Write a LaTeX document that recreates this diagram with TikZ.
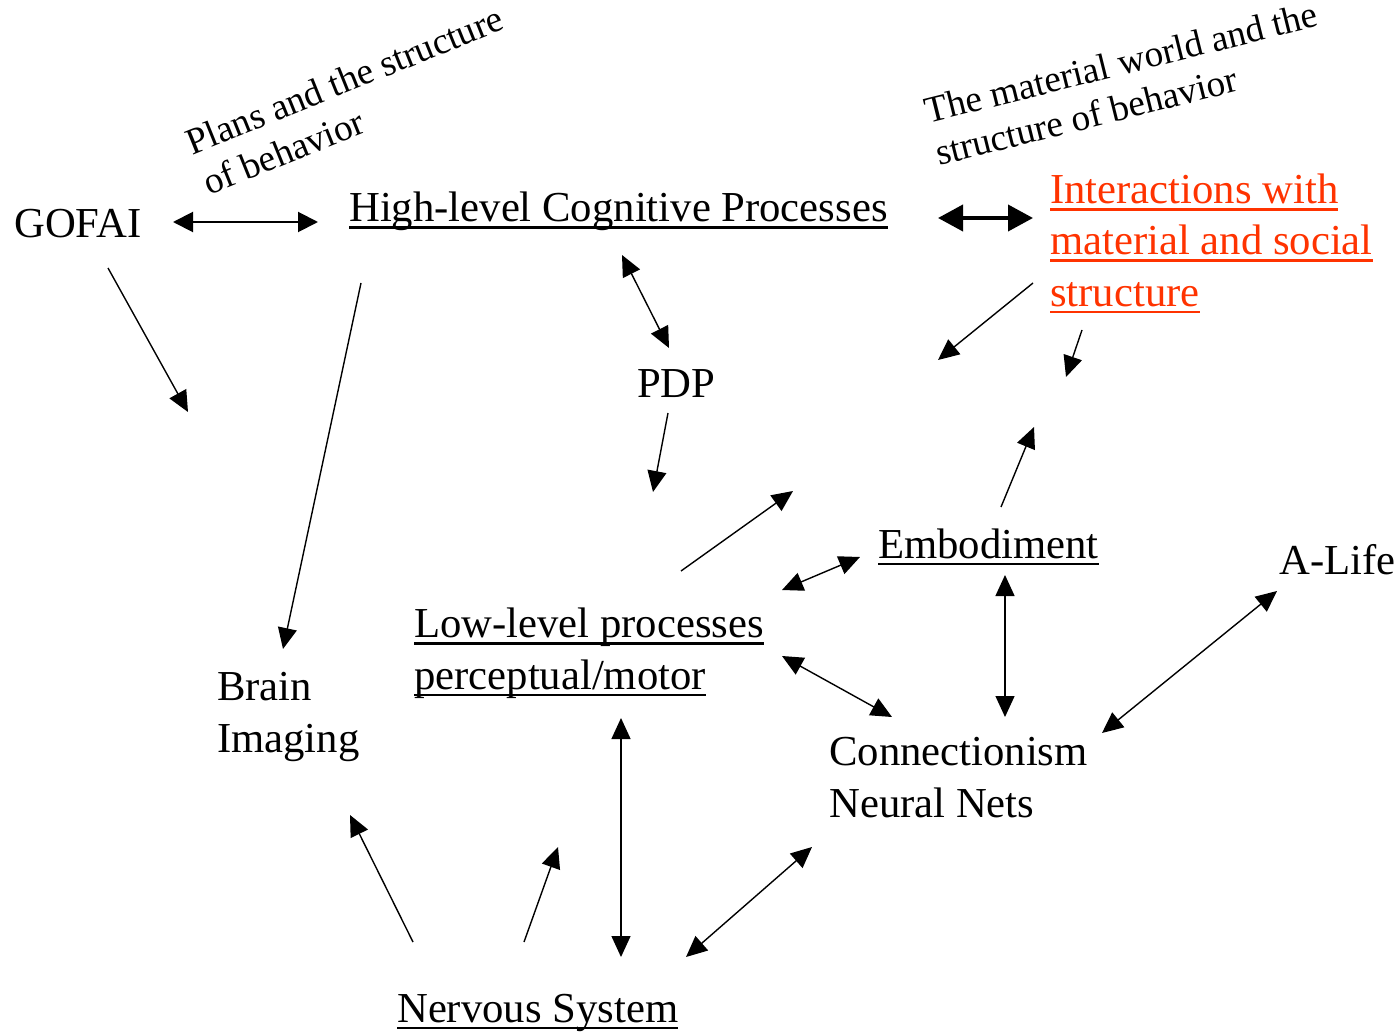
\documentclass[tikz,border=0pt]{standalone}
\usepackage{fontspec}
\setmainfont{Liberation Serif}
\usetikzlibrary{arrows.meta}
\definecolor{redtxt}{RGB}{255,51,0}
\newcommand\myul[1]{\setbox0\hbox{#1}\rlap{\rule[-7pt]{\wd0}{2.5pt}}\box0}
\begin{document}
\begin{tikzpicture}[x=1pt,y=-1pt,
  lbl/.style={inner sep=0pt, anchor=base west, font=\fontsize{42.7}{51.2}\selectfont, align=left},
  rlbl/.style={inner sep=0pt, anchor=base west, font=\fontsize{37.2}{44}\selectfont, align=left},
  con/.style={line width=1.4pt, -{Triangle[length=21pt,width=19pt]}},
  bicon/.style={line width=1.4pt, {Triangle[length=21pt,width=19pt]}-{Triangle[length=21pt,width=19pt]}},
  bimid/.style={line width=2pt, {Triangle[length=20pt,width=20pt]}-{Triangle[length=20pt,width=20pt]}},
  bibig/.style={line width=4pt, {Triangle[length=25pt,width=26pt]}-{Triangle[length=25pt,width=26pt]}}]
\useasboundingbox (0,0) rectangle (1399,1032);

% texts (multi-line nodes are placed by the baseline of their last line)
\node[lbl] (gofai) at (14,238) {GOFAI};
\node[lbl] (hlcp) at (349,222) {\myul{High-level Cognitive Processes}};
\node[lbl,text=redtxt] (inter) at (1050,306) {\myul{Interactions with}\\\myul{material and social}\\\myul{structure}};
\node[lbl] (pdp) at (637,397) {PDP};
\node[lbl] (emb) at (878,558) {\myul{Embodiment}};
\node[lbl] (alife) at (1279,574) {A-Life};
\node[lbl] (low) at (414,689) {\myul{Low-level processes}\\\myul{perceptual/motor}};
\node[lbl] (brain) at (217,752) {Brain\\Imaging};
\node[lbl] (conn) at (829,817) {Connectionism\\Neural Nets};
\node[lbl] (nerv) at (397,1022) {\myul{Nervous System}};
\node[rlbl, rotate=22] (plans) at (209,196) {Plans and the structure\\of behavior};
\node[rlbl, rotate=14] (mat) at (939,166) {The material world and the\\structure of behavior};

% connector end points
\coordinate (gofaiE) at (173,222);  \coordinate (hlcpW) at (318,222);
\coordinate (gofaiS) at (108,268);  \coordinate (freeA) at (188,412);
\coordinate (hlcpS) at (361,283);   \coordinate (brainN) at (283,649);
\coordinate (hlcpB) at (622,255);   \coordinate (pdpN) at (669,348);
\coordinate (pdpS) at (668,413);    \coordinate (freeB) at (653,492);
\coordinate (lowNE) at (681,571);   \coordinate (freeC) at (793,491);
\coordinate (lowE) at (782,590);    \coordinate (embW) at (860,557);
\coordinate (embN) at (1001,507);   \coordinate (freeD) at (1034,427);
\coordinate (interSW) at (1033,283);\coordinate (freeE) at (938,360);
\coordinate (interS) at (1082,330); \coordinate (freeF) at (1066,377);
\coordinate (hlcpE) at (938,218);   \coordinate (interW) at (1033,218);
\coordinate (embS) at (1005,575);   \coordinate (connN) at (1005,717);
\coordinate (lowE2) at (782,656);   \coordinate (connNW) at (892,717);
\coordinate (alifeS) at (1277,591); \coordinate (connE) at (1102,733);
\coordinate (lowS) at (621,718);    \coordinate (nervN) at (621,957);
\coordinate (nervNE) at (686,957);  \coordinate (connSW) at (812,847);
\coordinate (nervNW) at (413,942);  \coordinate (brainS) at (350,815);
\coordinate (nervN2) at (524,942);  \coordinate (freeG) at (558,847);

% connectors
\draw[bimid] (gofaiE) -- (hlcpW);
\draw[con] (gofaiS) -- (freeA);
\draw[con] (hlcpS) -- (brainN);
\draw[bicon] (hlcpB) -- (pdpN);
\draw[con] (pdpS) -- (freeB);
\draw[con] (lowNE) -- (freeC);
\draw[bicon] (lowE) -- (embW);
\draw[con] (embN) -- (freeD);
\draw[con] (interSW) -- (freeE);
\draw[con] (interS) -- (freeF);
\draw[bibig] (hlcpE) -- (interW);
\draw[bicon] (embS) -- (connN);
\draw[bicon] (lowE2) -- (connNW);
\draw[bicon] (alifeS) -- (connE);
\draw[bicon] (lowS) -- (nervN);
\draw[bicon] (nervNE) -- (connSW);
\draw[con] (nervNW) -- (brainS);
\draw[con] (nervN2) -- (freeG);
\end{tikzpicture}
\end{document}
